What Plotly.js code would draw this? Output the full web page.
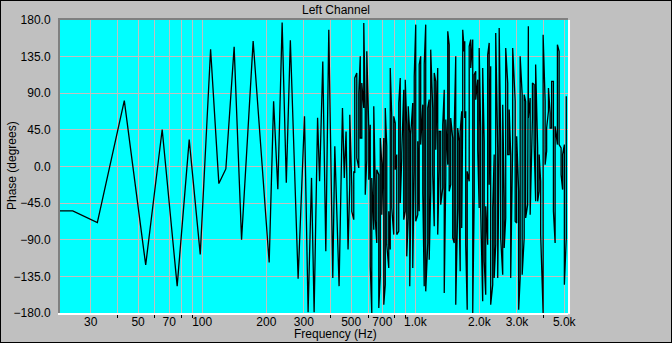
<!DOCTYPE html>
<html><head><meta charset="utf-8">
<script src="https://cdn.plot.ly/plotly-3.0.1.min.js"></script>
<style>
html,body{margin:0;padding:0;background:#000;}
#frame{position:absolute;left:0;top:0;width:672px;height:343px;background:#000;}
#chart{position:absolute;left:1px;top:1px;width:670px;height:341px;}
</style></head><body>
<div id="frame"><div id="chart"></div></div>
<script>
// Low-frequency part: individual points of the phase curve (Hz, degrees)
const sweepFreq = [21.5,24.7,32.2,43.1,54.3,64.9,76.3,86.9,97.9,109.5,119.7,129.1,141.2,153.0,173.4,206.2,216.3,226.4,237.2,248.1,259.2,281.9,302.0,314.0,325.8,335.1,347.9,355.5,368.0,380.2,392.6,410.0,419.0,438.8,455.2,464.2,473.2,483.5];
const sweepPhase = [-54.5,-54.5,-69,81,-121,45.5,-147,33,-108,144,-21,-3,147,-90,154,-118,80,-28,177,-20,155,-138,61.7,-179,-14,-179,60,-18,129,-104,168,-137,25,-147,72,-14,43,-102];

// Dense part: each vertical swing of the curve (Hz, upper and lower phase in degrees)
const strokeFreq = [492.6,503.3,514.3,519.9,531.3,542.9,551.8,560.8,573.0,582.3,591.9,604.8,614.7,624.7,638.4,648.8,659.4,673.8,684.8,696.0,711.2,722.8,734.6,750.6,762.8,775.3,792.2,805.1,818.3,836.2,849.9,863.7,882.6,
 897.0,911.6,926.5,941.7,951.9,972.6,988.5,1004.7,1026.6,1043,1060,1084,1101,1119,1144,1162,1181,1207,1227,1247,1274,1295,1316,1345,1367,1390,1420,1442,1466,1498,1523,1548,1581,1607,
 1624,1651,1669,1687,1706,1724,1752,1790,1820,1860,1890,1921,1963,1994,2027,2071,2105,2140,2186,2222,2258,2308,2345,2384,2436,2475,2516,2571,2613,2656,2714,2758,2803,2864,
 2942,2990,3055,3105,3173,3242,3295,3367,3392,3459,3545,3611,3670,3750,3812,3874,3979,4066,4133,4214,4292,4362,4447,4529,4643,4729,4832,4911,5005,5110];
const strokeHigh = [63.7,-24.3,-5.9,108.8,115,90.3,135.4,102.6,176.4,67.8,141.5,47.3,51.4,-14.1,74,-24.3,-3.9,-10,35,4.3,35,71.9,24.8,-55,121,61.7,61.7,53.5,14.6,78,108.8,16.6,94.4,
 106.7,51.4,74,41.2,39.1,78,110.8,174.3,31,125.2,135.4,76,125.2,174.3,72,82.2,143.6,72,114.9,104.7,121,43.2,43.2,51.4,94.4,57.6,166.1,149.7,59.6,35,47.3,135.4,47.3,31,
 43.2,67.8,168,151.8,153.8,67.8,-5.9,147.7,155.9,155.9,112.9,117,106.7,145.6,43.2,121,31,-48.9,137.4,151.8,123.1,-51,14.6,164,22.8,170.2,31,76,-38.7,145.6,102.6,69.9,14.6,145.6,
 80.1,37.1,-30.5,135.4,88.3,88.3,80.1,145.6,172.3,84.2,102.6,100.6,125.2,22.8,14.6,-18.2,162,80.1,47.3,96.5,65.8,104.7,104.7,49.4,149.7,141.5,22.8,14.6,26.9,86.3];
const strokeLow = [-22.3,-55.1,-65.3,-8,10.5,-1.8,35,35,72,-34.6,8.4,-16.2,-122.7,-180,-77.6,-65.3,-94,-173.9,-135,-59.2,-169.8,-145.2,-96,-124.7,-102,-51,-83.7,-3.9,-83.7,-79.6,-44.8,10.5,-65.3,
 -55.1,-110.4,-63.3,-147.2,-51,-124.7,-5.9,-67.4,-59.2,-55.1,26.9,-32.5,-147.2,-153.4,-94,-114.5,-30.5,-10,-73.5,20.7,-83.7,-3.9,-46.9,-26.4,-155.4,-12,2.3,-30.5,-22.3,-87.8,-94,-169.8,-51,-55.1,
 -128.8,-75.5,67.8,141.5,59.6,-96,-175.9,-18.2,121,-180,-36.6,82.1,20.7,-51,-53,-165.7,-116.5,-157.5,-96,-22.3,-169.8,-145.2,-137,-96,-137,18.7,-87.8,-132.9,-100.1,-63.3,14.6,14.6,-137,31,
 -67.4,-69.4,-175.9,-137,-132.9,-87.8,-63.3,-46.9,59.6,-59.2,59.6,26.9,-42.8,-42.8,-30.5,-83.7,-180,2.3,18.7,67.8,47.3,47.3,-55.1,-94,26.9,26.9,-10,-28.4,-145.2,-87.8];

const freqTickVals = [30,50,70,100,200,300,500,700,1000,2000,3000,5000];
const freqTickText = ['30','50','70','100','200','300','500','700','1.0k','2.0k','3.0k','5.0k'];
const freqMinorVals = [40,60,80,90,400,600,800,900,4000];
const phaseTickVals = [-180,-135,-90,-45,0,45,90,135,180];

// Build the polyline: sweep points followed by each swing, ordered to continue from the previous end
const xs = sweepFreq.slice(), ys = sweepPhase.slice();
let last = ys[ys.length - 1];
for (let i = 0; i < strokeFreq.length; i++) {
  const h = strokeHigh[i], l = strokeLow[i];
  const first = Math.abs(h - last) <= Math.abs(l - last) ? h : l;
  const second = first === h ? l : h;
  xs.push(strokeFreq[i], strokeFreq[i]);
  ys.push(first, second);
  last = second;
}

const font = {family: '"Liberation Sans", Arial, sans-serif', size: 12, color: '#000'};

const trace = {
  x: xs, y: ys, type: 'scatter', mode: 'lines',
  line: {color: '#000', width: 1.3}, hoverinfo: 'skip', showlegend: false
};

const layout = {
  width: 670, height: 341,
  margin: {l: 59, r: 103, t: 19, b: 29, pad: 0},
  paper_bgcolor: '#c0c0c0', plot_bgcolor: '#00ffff',
  font: font,
  title: {text: 'Left Channel', font: font, x: 0.5, xref: 'container', xanchor: 'center', y: 0.974, yref: 'container', yanchor: 'middle'},
  xaxis: {
    type: 'log', range: [1.3327, 3.7165], fixedrange: true,
    tickmode: 'array', tickvals: freqTickVals, ticktext: freqTickText,
    ticks: '', showgrid: true, gridcolor: '#c0c0c0', gridwidth: 1,
    minor: {tickmode: 'array', tickvals: freqMinorVals, ticks: 'outside', ticklen: 3, tickcolor: '#000', showgrid: true, gridcolor: '#c0c0c0', gridwidth: 1},
    showline: true, linecolor: '#ffffff', linewidth: 2, zeroline: false,
    tickfont: font, ticklabelstandoff: -3
  },
  yaxis: {
    range: [-180, 180], fixedrange: true,
    tickmode: 'array', tickvals: phaseTickVals, tickformat: '.1f',
    ticks: '', showgrid: true, gridcolor: '#c0c0c0', gridwidth: 1,
    showline: true, linecolor: '#808080', linewidth: 2, zeroline: false,
    tickfont: font, ticklabelstandoff: 5
  },
  annotations: [{
    text: 'Frequency (Hz)', xref: 'paper', yref: 'paper', x: 0.5433, y: -0.0717,
    xanchor: 'center', yanchor: 'middle', showarrow: false, font: font, borderpad: 0
  }, {
    text: 'Phase (degrees)', xref: 'paper', yref: 'paper', x: -0.0945, y: 0.505,
    xanchor: 'center', yanchor: 'middle', textangle: -90, showarrow: false, font: font, borderpad: 0
  }],
  shapes: [
    {type: 'line', xref: 'paper', yref: 'paper', x0: -0.004, x1: 1.0, y0: 1.0035, y1: 1.0035, line: {color: '#808080', width: 2}},
    {type: 'line', xref: 'paper', yref: 'paper', x0: 1.002, x1: 1.002, y0: -0.004, y1: 1.0, line: {color: '#ffffff', width: 2}}
  ]
};

Plotly.newPlot('chart', [trace], layout, {displayModeBar: false, staticPlot: true});
</script>
</body></html>
